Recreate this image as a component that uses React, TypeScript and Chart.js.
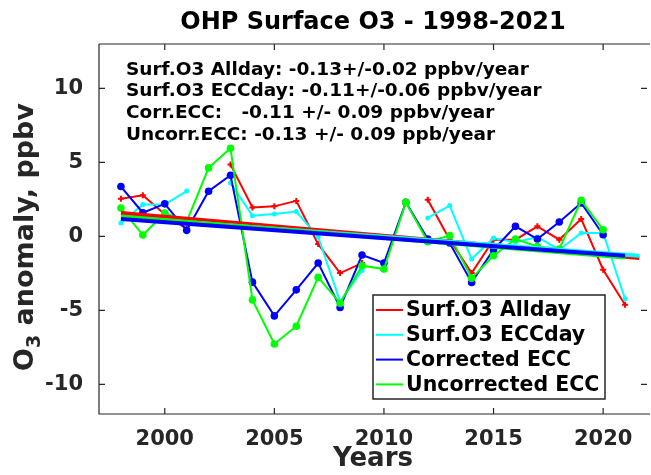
import React, { useEffect, useRef } from 'react';
import { Chart, registerables } from 'chart.js';
Chart.register(...registerables);

const years = [1998, 1999, 2000, 2001, 2002, 2003, 2004, 2005, 2006, 2007, 2008, 2009, 2010, 2011, 2012, 2013, 2014, 2015, 2016, 2017, 2018, 2019, 2020, 2021];
const surfAllday = [2.55, 2.78, 1.5, 0.5, null, 4.85, 1.96, 2.03, 2.4, -0.52, -2.48, -1.8, null, null, 2.48, -0.22, -2.48, -0.22, -0.22, 0.68, -0.22, 1.18, -2.25, -4.62];
const surfEccday = [0.9, 2.16, 2.16, 3.06, null, 3.61, 1.4, 1.51, 1.68, -0.04, -4.4, -2.3, null, null, 1.25, 2.08, -1.53, -0.11, -0.4, -0.04, -0.9, 0.23, 0.23, -4.22];
const correctedEcc = [3.37, 1.6, 2.2, 0.41, 3.05, 4.13, -3.09, -5.37, -3.61, -1.8, -4.8, -1.26, -1.8, 2.3, -0.18, -0.45, -3.11, -0.9, 0.68, -0.18, 0.97, 2.26, 0.11, null];
const uncorrectedEcc = [1.92, 0.09, 1.58, 1.0, 4.63, 5.95, -4.29, -7.27, -6.07, -2.77, -4.51, -1.98, -2.21, 2.3, -0.36, 0.05, -2.82, -1.31, -0.18, -0.68, -0.85, 2.44, 0.45, null];

const trendYearsSurf = [1998, 2021.65];
const trendYearsEcc = [1998, 2021];
const trendAllday = [1.58, -1.46];
const trendEccday = [1.29, -1.31];
const trendCorrected = [1.18, -1.31];
const trendUncorrected = [1.35, -1.42];

const xTicks = [2000, 2005, 2010, 2015, 2020];
const yTicks = [-10, -5, 0, 5, 10];

const seriesLabels = ['Surf.O3 Allday', 'Surf.O3 ECCday', 'Corrected ECC', 'Uncorrected ECC'];
const seriesColors = ['#ff0000', '#00ffff', '#0000ff', '#00ff00'];

const titleText = 'OHP Surface O3 - 1998-2021';
const xLabel = 'Years';
const annotations = [
  'Surf.O3 Allday: -0.13+/-0.02 ppbv/year',
  'Surf.O3 ECCday: -0.11+/-0.06 ppbv/year',
  'Corr.ECC:   -0.11 +/- 0.09 ppbv/year',
  'Uncorr.ECC: -0.13 +/- 0.09 ppb/year',
];

const FONT = '"DejaVu Sans", sans-serif';
const AXC = '#262626';

function pts(xs: number[], ys: (number | null)[]) {
  return xs.map((x, i) => ({ x, y: ys[i] }));
}

const overlay = {
  id: 'overlay',
  beforeDatasetsDraw(chart: any) {
    const { ctx, chartArea: a, scales } = chart;
    const xs = scales.x, ys = scales.y;
    ctx.save();
    ctx.strokeStyle = AXC;
    ctx.lineWidth = 1.2;
    ctx.beginPath();
    ctx.moveTo(a.left, a.top); ctx.lineTo(a.left, a.bottom); ctx.lineTo(a.right + 5, a.bottom);
    ctx.moveTo(a.left, a.top); ctx.lineTo(a.right + 5, a.top);
    const tl = 6;
    const rightAxis = a.right + 2;
    xTicks.forEach((v) => {
      const px = xs.getPixelForValue(v);
      ctx.moveTo(px, a.bottom); ctx.lineTo(px, a.bottom - tl);
      ctx.moveTo(px, a.top); ctx.lineTo(px, a.top + tl);
    });
    yTicks.forEach((v) => {
      const py = ys.getPixelForValue(v);
      ctx.moveTo(a.left, py); ctx.lineTo(a.left + tl, py);
      ctx.moveTo(rightAxis, py); ctx.lineTo(rightAxis - tl, py);
    });
    ctx.stroke();
    ctx.restore();
  },
  afterDraw(chart: any) {
    const { ctx, chartArea: a } = chart;
    const cx = (a.left + a.right + 2) / 2;
    ctx.save();
    ctx.fillStyle = '#000';
    ctx.textAlign = 'center';
    ctx.textBaseline = 'middle';
    ctx.font = `bold 24px ${FONT}`;
    ctx.fillText(titleText, cx, 23);

    ctx.fillStyle = AXC;
    ctx.font = `bold 26px ${FONT}`;
    ctx.fillText(xLabel, cx, 459);

    // y label with subscript
    ctx.save();
    ctx.translate(33, 237);
    ctx.rotate(-Math.PI / 2);
    ctx.textAlign = 'left';
    ctx.textBaseline = 'alphabetic';
    const big = `bold 27px ${FONT}`;
    const small = `bold 19px ${FONT}`;
    ctx.font = big;
    const wO = ctx.measureText('O').width;
    const rest = ' anomaly, ppbv';
    const wR = ctx.measureText(rest).width;
    ctx.font = small;
    const w3 = ctx.measureText('3').width;
    const total = wO + w3 + wR;
    const x0 = -total / 2;
    ctx.font = big;
    ctx.fillText('O', x0, 0);
    ctx.font = small;
    ctx.fillText('3', x0 + wO, 7);
    ctx.font = big;
    ctx.fillText(rest, x0 + wO + w3, 0);
    ctx.restore();

    // annotations
    ctx.fillStyle = '#000';
    ctx.textAlign = 'left';
    ctx.textBaseline = 'middle';
    ctx.font = `bold 18.5px ${FONT}`;
    annotations.forEach((t, i) => {
      ctx.fillText(t, 126, 70 + i * 21.6);
    });

    // legend
    const lx = 373, ly = 295, lw = 232, lh = 104;
    ctx.fillStyle = '#fff';
    ctx.fillRect(lx, ly, lw, lh);
    ctx.strokeStyle = AXC;
    ctx.lineWidth = 1.5;
    ctx.strokeRect(lx, ly, lw, lh);
    ctx.font = `bold 20.5px ${FONT}`;
    seriesLabels.forEach((lab, i) => {
      const yy = 310 + i * 24.8;
      ctx.strokeStyle = seriesColors[i];
      ctx.lineWidth = 2;
      ctx.beginPath();
      ctx.moveTo(376, yy); ctx.lineTo(403, yy);
      ctx.stroke();
      ctx.fillStyle = '#000';
      ctx.fillText(lab, 406, yy + 1);
    });
    ctx.restore();
  },
};

export default function App() {
  const ref = useRef<HTMLCanvasElement>(null);
  useEffect(() => {
    const canvas = ref.current!;
    const dataLine = (i: number, ys: (number | null)[], style: any, order: number) => ({
      label: seriesLabels[i],
      data: pts(years, ys),
      borderColor: seriesColors[i],
      backgroundColor: seriesColors[i],
      borderWidth: 2,
      spanGaps: false,
      order,
      ...style,
    });
    const trendLine = (i: number, xs: number[], ys: number[], order: number) => ({
      label: seriesLabels[i] + ' trend',
      data: pts(xs, ys),
      borderColor: seriesColors[i],
      backgroundColor: seriesColors[i],
      borderWidth: 4,
      pointRadius: 0,
      order,
    });
    const chart = new Chart(canvas, {
      type: 'line',
      data: {
        datasets: [
          dataLine(0, surfAllday, { pointStyle: 'cross', pointRadius: 3, pointBorderWidth: 2 }, 8),
          dataLine(1, surfEccday, { pointStyle: 'circle', pointRadius: 2.5, pointBorderWidth: 0 }, 7),
          dataLine(2, correctedEcc, { pointStyle: 'circle', pointRadius: 3.8, pointBorderWidth: 0 }, 6),
          dataLine(3, uncorrectedEcc, { pointStyle: 'circle', pointRadius: 3.8, pointBorderWidth: 0 }, 5),
          trendLine(0, trendYearsSurf, trendAllday, 4),
          trendLine(1, trendYearsSurf, trendEccday, 3),
          trendLine(3, trendYearsEcc, trendUncorrected, 2),
          trendLine(2, trendYearsEcc, trendCorrected, 1),
        ] as any,
      },
      options: {
        responsive: false,
        animation: false,
        devicePixelRatio: 1,
        layout: { padding: { left: 0, right: 0, top: 44, bottom: 0 } },
        plugins: { legend: { display: false }, tooltip: { enabled: false }, title: { display: false } },
        elements: { line: { tension: 0 } },
        scales: {
          x: {
            type: 'linear',
            min: 1997,
            max: 2021.91,
            grid: { display: false },
            border: { display: false },
            afterBuildTicks: (s: any) => { s.ticks = xTicks.map((v) => ({ value: v })); },
            afterFit: (s: any) => { s.height = 61; },
            ticks: {
              color: AXC,
              font: { family: FONT, size: 21, weight: 'bold' },
              padding: 5,
              maxRotation: 0,
              autoSkip: false,
              callback: (v: any) => String(v),
            },
          },
          y: {
            type: 'linear',
            min: -12,
            max: 13,
            grid: { display: false },
            border: { display: false },
            afterBuildTicks: (s: any) => { s.ticks = yTicks.map((v) => ({ value: v })); },
            afterFit: (s: any) => { s.width = 99; },
            ticks: {
              color: AXC,
              font: { family: FONT, size: 21, weight: 'bold' },
              padding: 8,
              autoSkip: false,
              callback: (v: any) => String(v),
            },
          },
        },
      },
      plugins: [overlay],
    });
    return () => chart.destroy();
  }, []);
  return (
    <div style={{ position: 'absolute', left: 0, top: 0, width: 651, height: 475, background: '#fff' }}>
      <canvas ref={ref} width={651} height={475} style={{ display: 'block', width: 651, height: 475 }} />
    </div>
  );
}
